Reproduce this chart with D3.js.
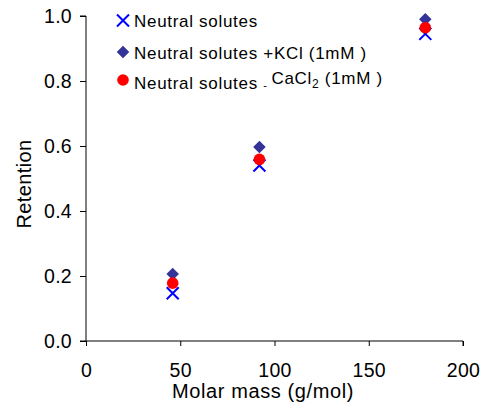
<!DOCTYPE html>
<html>
<head>
<meta charset="utf-8">
<script src="https://cdn.jsdelivr.net/npm/d3@7"></script>
<style>
  html, body { margin: 0; padding: 0; background: #fff; }
  svg { display: block; font-family: Arial, "Liberation Sans", sans-serif; }
</style>
</head>
<body>
<div id="chart"></div>
<script>
const width = 483;
const height = 405;

// molar masses (ethanol, glycerol, glucose)
const molarMass = [46, 92, 180];
const neutral = [0.147, 0.54, 0.945];
const withKCl = [0.206, 0.597, 0.99];
const withCaCl2 = [0.178, 0.559, 0.964];

const xTicks = [0, 50, 100, 150, 200];
const yTicks = [0, 0.2, 0.4, 0.6, 0.8, 1.0];

const margin = { left: 86, right: 20, top: 16, bottom: 64 };

const svg = d3.select("#chart").append("svg")
  .attr("width", width)
  .attr("height", height);

const x = d3.scaleLinear().domain([0, 200]).range([margin.left, 463]);
const y = d3.scaleLinear().domain([0, 1]).range([341, margin.top]);

// y axis
const yAxis = svg.append("g")
  .attr("transform", `translate(${x(0)},0)`)
  .call(d3.axisLeft(y).tickValues(yTicks).tickSize(6).tickPadding(8).tickFormat(d3.format(".1f")));
yAxis.select(".domain").attr("d", `M-6,${y(1)}H0V${y(0)}`).attr("stroke", "#000");
yAxis.selectAll("text").style("font-size", "19.5px").style("letter-spacing", "0.3px").attr("fill", "#000");

// x axis
const xAxis = svg.append("g")
  .attr("transform", `translate(0,${y(0)})`)
  .call(d3.axisBottom(x).tickValues(xTicks).tickSize(5).tickPadding(17).tickFormat(d3.format("d")));
xAxis.select(".domain").attr("d", `M${x(0) - 6},0H${x(200)}V5`).attr("stroke", "#000");
xAxis.selectAll("text").style("font-size", "19.5px").style("letter-spacing", "0.3px").attr("fill", "#000");

// titles
svg.append("text")
  .attr("x", 263).attr("y", 398)
  .attr("text-anchor", "middle")
  .style("font-size", "20px")
  .style("letter-spacing", "0.6px")
  .text("Molar mass (g/mol)");

svg.append("text")
  .attr("transform", "translate(31,184) rotate(-90)")
  .attr("text-anchor", "middle")
  .style("font-size", "20px")
  .style("letter-spacing", "0.4px")
  .text("Retention");

// markers
const pts = (vals) => molarMass.map((m, i) => ({ m, v: vals[i] }));
const diamond = d3.symbol().type(d3.symbolDiamond2).size(100);

function crossPath(s) {
  return `M${-s},${-s}L${s},${s}M${-s},${s}L${s},${-s}`;
}

svg.append("g").selectAll("path").data(pts(neutral)).join("path")
  .attr("transform", d => `translate(${x(d.m)},${y(d.v)})`)
  .attr("d", crossPath(6))
  .attr("stroke", "#0000ff").attr("stroke-width", 2).attr("fill", "none");

svg.append("g").selectAll("path").data(pts(withKCl)).join("path")
  .attr("transform", d => `translate(${x(d.m)},${y(d.v)})`)
  .attr("d", diamond)
  .attr("fill", "#333399");

svg.append("g").selectAll("circle").data(pts(withCaCl2)).join("circle")
  .attr("cx", d => x(d.m)).attr("cy", d => y(d.v))
  .attr("r", 5.8)
  .attr("fill", "#ff0000");

// legend
const legend = svg.append("g").style("font-size", "17px").style("letter-spacing", "0.7px");
legend.append("path").attr("transform", "translate(123,20.5)").attr("d", crossPath(6))
  .attr("stroke", "#0000ff").attr("stroke-width", 2).attr("fill", "none");
legend.append("path").attr("transform", "translate(123,52)").attr("d", diamond).attr("fill", "#333399");
legend.append("circle").attr("cx", 123).attr("cy", 80).attr("r", 5.8).attr("fill", "#ff0000");

legend.append("text").attr("x", 134).attr("y", 27).text("Neutral solutes");
legend.append("text").attr("x", 134).attr("y", 58.5).text("Neutral solutes +KCl (1mM )");
const t3 = legend.append("text").attr("x", 134).attr("y", 88.5);
t3.append("tspan").text("Neutral solutes ");
t3.append("tspan").style("font-size", "11px").text("- ");
t3.append("tspan").attr("dy", -5).text("CaCl");
t3.append("tspan").attr("dy", 4).style("font-size", "12px").text("2");
t3.append("tspan").attr("dy", -4).text(" (1mM )");
</script>
</body>
</html>
